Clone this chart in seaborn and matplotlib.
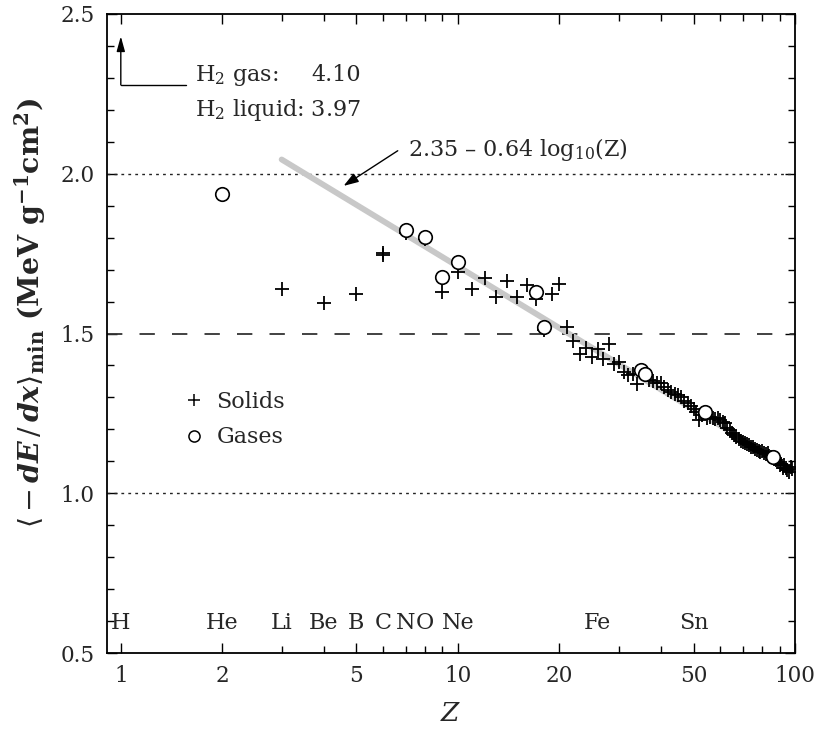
import numpy as np
import pandas as pd
import matplotlib
matplotlib.use("Agg")
import matplotlib.pyplot as plt
import seaborn as sns
from matplotlib.ticker import FixedLocator, NullFormatter, FixedFormatter
from matplotlib.lines import Line2D

# ---------------- data ----------------
solid_z = [3, 4, 5, 6, 6, 7, 8, 9, 10, 11, 12, 13, 14, 15, 16, 17, 18, 19, 20,
           21, 22, 23, 24, 25, 26, 27, 28, 29, 30, 31, 32, 33, 34,
           37, 38, 39, 40, 41, 42, 43, 44, 45, 46, 47, 48, 49, 50, 51, 52, 53,
           55, 56, 57, 58, 59, 60, 61, 62, 63, 64, 65, 66, 67, 68, 69, 70,
           71, 72, 73, 74, 75, 76, 77, 78, 79, 80, 81, 82, 83, 84, 85,
           87, 88, 89, 90, 91, 92, 93, 94, 95, 96, 97, 98]
solid_v = [1.639, 1.595, 1.623, 1.745, 1.752, 1.815, 1.795, 1.630, 1.692, 1.639,
           1.674, 1.615, 1.664, 1.613, 1.652, 1.607, 1.510, 1.623, 1.655,
           1.520, 1.477, 1.435, 1.456, 1.428, 1.451, 1.419, 1.468, 1.403, 1.411,
           1.379, 1.370, 1.372, 1.343,
           1.356, 1.350, 1.346, 1.344, 1.333, 1.322, 1.316, 1.312, 1.306, 1.300,
           1.290, 1.281, 1.272, 1.264, 1.255, 1.228, 1.245,
           1.235, 1.238, 1.237, 1.232, 1.234, 1.228, 1.222, 1.219, 1.205, 1.197,
           1.189, 1.181, 1.175, 1.169, 1.164, 1.159,
           1.157, 1.154, 1.150, 1.146, 1.144, 1.139, 1.134, 1.131, 1.128, 1.131,
           1.126, 1.122, 1.125, 1.118, 1.115,
           1.108, 1.104, 1.097, 1.088, 1.092, 1.080, 1.087, 1.078, 1.074, 1.066,
           1.081, 1.076]

gas_z = [2, 7, 8, 9, 10, 17, 18, 35, 36, 54, 86]
gas_v = [1.937, 1.825, 1.801, 1.676, 1.724, 1.630, 1.519, 1.387, 1.372, 1.255, 1.113]

fit_a, fit_b = 2.35, 0.64
fit_z = [3, 10, 30, 100]

element_names = ["H", "He", "Li", "Be", "B", "C", "N", "O", "Ne", "Fe", "Sn"]
element_z = [1, 2, 3, 4, 5, 6, 7, 8, 10, 26, 50]

xticks_major = [1, 2, 5, 10, 20, 50, 100]
xtick_labels = ["1", "2", "5", "10", "20", "50", "100"]
xticks_minor = [3, 4, 6, 7, 8, 9, 30, 40, 60, 70, 80, 90]
yticks_major = [0.5, 1.0, 1.5, 2.0, 2.5]
ytick_labels = ["0.5", "1.0", "1.5", "2.0", "2.5"]

# ---------------- style ----------------
sns.set_style("ticks")
plt.rcParams["font.family"] = ["DejaVu Serif"]
plt.rcParams["mathtext.fontset"] = "dejavuserif"
FS = 16

fig = plt.figure(figsize=(8.14, 7.31), dpi=100)
ax = fig.add_axes([107 / 814, 1 - 653 / 731, 688 / 814, 639 / 731])
ax.set_xscale("log")

solids = pd.DataFrame({"Z": solid_z, "v": solid_v})
gases = pd.DataFrame({"Z": gas_z, "v": gas_v})
fit = pd.DataFrame({"Z": fit_z, "v": [fit_a - fit_b * np.log10(z) for z in fit_z]})

# reference lines
ax.axhline(2.0, color="#222222", lw=1.0, ls=(0, (2, 3)), zorder=1)
ax.axhline(1.0, color="#222222", lw=1.0, ls=(0, (2, 3)), zorder=1)
ax.axhline(1.5, color="#333333", lw=1.3, ls=(0, (8.5, 9.5)), zorder=1)

sns.lineplot(data=fit, x="Z", y="v", color="#c8c8c8", lw=4.2, ax=ax, zorder=2,
             legend=False)
sns.scatterplot(data=solids, x="Z", y="v", marker="+", s=100, color="black",
                linewidth=1.3, ax=ax, zorder=3, legend=False)
sns.scatterplot(data=gases, x="Z", y="v", marker="o", s=95, facecolor="white",
                edgecolor="black", linewidth=1.2, ax=ax, zorder=4, legend=False)

ax.set_xlim(0.91, 100)
ax.set_ylim(0.5, 2.5)

# ticks
ax.xaxis.set_major_locator(FixedLocator(xticks_major))
ax.xaxis.set_major_formatter(FixedFormatter(xtick_labels))
ax.xaxis.set_minor_locator(FixedLocator(xticks_minor))
ax.xaxis.set_minor_formatter(NullFormatter())
ax.yaxis.set_major_locator(FixedLocator(yticks_major))
ax.yaxis.set_major_formatter(FixedFormatter(ytick_labels))
ax.yaxis.set_minor_locator(FixedLocator([0.5 + 0.1 * i for i in range(21)]))
ax.tick_params(which="both", direction="in", top=True, right=True,
               labelsize=15.5, width=1.0, color="black")
ax.tick_params(which="major", length=7)
ax.tick_params(which="minor", length=5)
ax.tick_params(axis="x", pad=9)
ax.tick_params(axis="y", pad=9)
for s in ax.spines.values():
    s.set_linewidth(1.3)
    s.set_color("black")

ax.set_xlabel("$Z$", fontsize=FS + 3)
ax.xaxis.set_label_coords(0.5, -0.075)
ax.set_ylabel(r"$\langle -\boldsymbol{dE}\,/\,\boldsymbol{dx}\rangle_{\mathbf{min}}$"
              r" (MeV g$^{\mathbf{-1}}$cm$^{\mathbf{2}}$)",
              fontsize=20.5, fontweight="bold")
ax.yaxis.set_label_coords(-0.086, 0.532)

# element labels
for name, z in zip(element_names, element_z):
    ax.text(z, 0.595, name, ha="center", va="center", fontsize=FS)

# fit annotation
ax.annotate("", xy=(4.58, 1.962), xytext=(6.63, 2.072),
            arrowprops=dict(arrowstyle="-|>,head_length=0.9,head_width=0.3",
                            color="black", lw=1.0, shrinkA=0, shrinkB=0))
ax.text(7.1, 2.056, r"2.35 – 0.64 log$_{10}$(Z)", fontsize=FS, ha="left",
        va="baseline")

# H2 annotation
ax.plot([1.0, 1.56], [2.278, 2.278], color="black", lw=1.0)
ax.annotate("", xy=(1.0, 2.43), xytext=(1.0, 2.278),
            arrowprops=dict(arrowstyle="-|>,head_length=0.9,head_width=0.25",
                            color="black", lw=1.0, shrinkA=0, shrinkB=0))
t_gas = ax.text(1.66, 2.29, r"H$_2$ gas:", fontsize=FS, ha="left", va="baseline")
t_liq = ax.text(1.66, 2.181, r"H$_2$ liquid: 3.97", fontsize=FS, ha="left",
                va="baseline")
fig.canvas.draw()
bb = t_liq.get_window_extent(renderer=fig.canvas.get_renderer())
x_right = ax.transData.inverted().transform((bb.x1, bb.y0))[0]
ax.text(x_right, 2.29, "4.10", fontsize=FS, ha="right", va="baseline")

# legend
handles = [Line2D([], [], marker="+", ls="none", color="black", ms=8, mew=1.1),
           Line2D([], [], marker="o", ls="none", mfc="white", mec="black",
                  ms=8, mew=1.1)]
ax.legend(handles, ["Solids", "Gases"], loc="upper left",
          bbox_to_anchor=((183 - 107) / 688, (653 - 391) / 639),
          frameon=False, fontsize=FS, handlelength=1.0, handletextpad=0.5,
          labelspacing=0.6, borderpad=0, borderaxespad=0)

fig.savefig("out.png", dpi=100)
